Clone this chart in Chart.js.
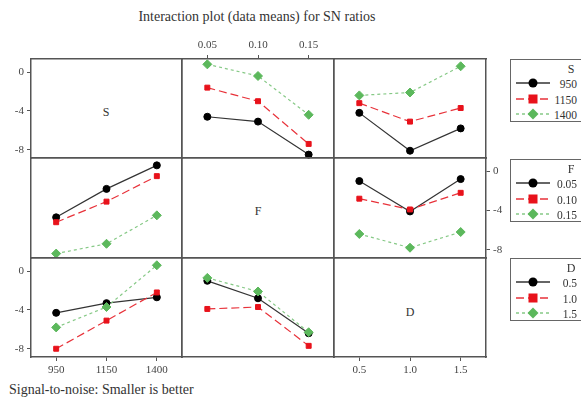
<!DOCTYPE html>
<html>
<head>
<meta charset="utf-8">
<script src="https://cdn.jsdelivr.net/npm/chart.js@4.4.0/dist/chart.umd.min.js"></script>
<style>
  body { margin: 0; background: #fff; }
  #wrap { position: relative; width: 581px; height: 401px; overflow: hidden;
          font-family: "Liberation Serif", "Times New Roman", serif; color: #333; }
  #wrap canvas { position: absolute; }
  .t { position: absolute; white-space: nowrap; transform: translate(-50%, -50%); }
  .lg { position: absolute; left: 510px; width: 120px; height: 63px; border: 1.5px solid #666; background: #fff; box-sizing: border-box; }
  .lg .ttl { position: absolute; left: 60px; top: 9px; transform: translate(-50%, -50%); font-size: 12px; }
  .lg .row { position: absolute; left: 0; height: 12px; width: 120px; }
  .lg svg { position: absolute; left: 3px; top: -1px; }
  .lg .lab { position: absolute; right: 54px; top: -1px; font-size: 11.5px; line-height: 14px; }
</style>
</head>
<body>
<div id="wrap">
  <div class="t" style="left:257px;top:17px;font-size:14px;">Interaction plot (data means) for SN ratios</div>
  <div style="position:absolute;left:9px;top:382px;font-size:14px;white-space:nowrap;">Signal-to-noise: Smaller is better</div>
  <div class="t" style="left:106px;top:112px;font-size:12px;">S</div>
  <div class="t" style="left:258px;top:211px;font-size:12px;">F</div>
  <div class="t" style="left:410px;top:312px;font-size:12px;">D</div>
</div>
<script>
const sLabels = ['950', '1150', '1400'];
const fLabels = ['0.05', '0.10', '0.15'];
const dLabels = ['0.5', '1.0', '1.5'];
const yTicks = [0, -4, -8];
const yMin = -8.85, yMax = 1.35;

// S lines plotted against F (top middle)
const s950ByF  = [-4.6, -5.1, -8.5];
const s1150ByF = [-1.6, -3.0, -7.4];
const s1400ByF = [0.8, -0.4, -4.4];
// S lines plotted against D (top right)
const s950ByD  = [-4.2, -8.1, -5.8];
const s1150ByD = [-3.2, -5.1, -3.7];
const s1400ByD = [-2.4, -2.1, 0.6];
// F lines plotted against S (middle left)
const f005ByS = [-4.7, -1.8, 0.6];
const f010ByS = [-5.2, -3.1, -0.5];
const f015ByS = [-8.4, -7.4, -4.5];
// F lines plotted against D (middle right)
const f005ByD = [-1.0, -4.1, -0.8];
const f010ByD = [-2.8, -3.9, -2.2];
const f015ByD = [-6.4, -7.8, -6.2];
// D lines plotted against S (bottom left)
const d05ByS = [-4.3, -3.3, -2.7];
const d10ByS = [-8.0, -5.1, -2.2];
const d15ByS = [-5.8, -3.7, 0.6];
// D lines plotted against F (bottom middle)
const d05ByF = [-1.0, -2.8, -6.4];
const d10ByF = [-3.9, -3.7, -7.7];
const d15ByF = [-0.7, -2.1, -6.3];

const wrap = document.getElementById('wrap');
const colX = [31, 182, 334, 486];
const rowY = [59, 158, 258, 357];
const M = 30;
const frame = '#555';
const tickFont = { family: '"Liberation Serif", "Times New Roman", serif', size: 11 };

const styles = [
  { point: '#000', line: '#333', dash: [], shape: 'circle', r: 3.5 },
  { point: '#e8121b', line: '#e8323a', dash: [8, 4], shape: 'rect', r: 3.5 },
  { point: '#5cb85c', line: '#86c986', dash: [3, 3], shape: 'rectRot', r: 4.5 }
];

function xAxis(pos, labels, show) {
  return {
    type: 'category', position: pos, labels: labels, offset: true,
    afterFit: s => { s.height = M; },
    grid: { display: true, drawOnChartArea: false, drawTicks: show, tickLength: 4, color: frame, offset: false },
    border: { display: true, color: frame, width: 1.5 },
    ticks: { display: show, color: '#444', font: tickFont, padding: 3, maxRotation: 0, autoSkip: false }
  };
}

function yAxis(pos, show) {
  return {
    type: 'linear', position: pos, min: yMin, max: yMax,
    afterFit: s => { s.width = M; },
    afterBuildTicks: s => { s.ticks = yTicks.map(v => ({ value: v })); },
    grid: { display: true, drawOnChartArea: false, drawTicks: show, tickLength: 4, color: frame },
    border: { display: true, color: frame, width: 1.5 },
    ticks: { display: show, color: '#444', font: tickFont, padding: 3 }
  };
}

function panel(col, row, labels, series, show) {
  const x0 = colX[col], x1 = colX[col + 1], y0 = rowY[row], y1 = rowY[row + 1];
  const w = x1 - x0 + 2 * M, h = y1 - y0 + 2 * M;
  const c = document.createElement('canvas');
  c.width = w; c.height = h;
  c.style.width = w + 'px'; c.style.height = h + 'px';
  c.style.left = (x0 - M) + 'px'; c.style.top = (y0 - M) + 'px';
  wrap.appendChild(c);
  new Chart(c, {
    type: 'line',
    data: {
      labels: labels,
      datasets: series.map((d, i) => ({
        data: d,
        order: 2 - i,
        borderColor: styles[i].line,
        borderWidth: 1.2,
        borderDash: styles[i].dash,
        pointStyle: styles[i].shape,
        pointRadius: styles[i].r,
        pointBackgroundColor: styles[i].point,
        pointBorderColor: styles[i].point,
        pointBorderWidth: 1,
        tension: 0,
        clip: 8
      }))
    },
    options: {
      responsive: false,
      animation: false,
      devicePixelRatio: 1,
      layout: { padding: 0 },
      plugins: { legend: { display: false }, tooltip: { enabled: false } },
      scales: {
        x: xAxis('bottom', labels, !!show.bottom),
        xTop: xAxis('top', labels, !!show.top),
        y: yAxis('left', !!show.left),
        yRight: yAxis('right', !!show.right)
      }
    }
  });
}

panel(0, 0, sLabels, [], { left: true });
panel(1, 0, fLabels, [s950ByF, s1150ByF, s1400ByF], { top: true });
panel(2, 0, dLabels, [s950ByD, s1150ByD, s1400ByD], {});
panel(0, 1, sLabels, [f005ByS, f010ByS, f015ByS], {});
panel(1, 1, fLabels, [], {});
panel(2, 1, dLabels, [f005ByD, f010ByD, f015ByD], { right: true });
panel(0, 2, sLabels, [d05ByS, d10ByS, d15ByS], { left: true, bottom: true });
panel(1, 2, fLabels, [d05ByF, d10ByF, d15ByF], {});
panel(2, 2, dLabels, [], { bottom: true });

// legends
const legends = [
  { top: 59, title: 'S', names: sLabels },
  { top: 159, title: 'F', names: fLabels },
  { top: 258, title: 'D', names: dLabels }
];
function swatch(st) {
  let mark;
  if (st.shape === 'circle') mark = '<circle cx="19" cy="6" r="4.5" fill="' + st.point + '"/>';
  else if (st.shape === 'rect') mark = '<rect x="14.5" y="1.5" width="9" height="9" fill="' + st.point + '"/>';
  else mark = '<polygon points="19,0.5 24.5,6 19,11.5 13.5,6" fill="' + st.point + '"/>';
  return '<svg width="38" height="12"><line x1="2" y1="6" x2="36" y2="6" stroke="' + st.line +
    '" stroke-width="1.3" stroke-dasharray="' + (st.dash.length ? st.dash.join(',') : 'none') + '"/>' + mark + '</svg>';
}
legends.forEach(lg => {
  const box = document.createElement('div');
  box.className = 'lg';
  box.style.top = lg.top + 'px';
  let html = '<div class="ttl">' + lg.title + '</div>';
  lg.names.forEach((n, i) => {
    html += '<div class="row" style="top:' + (18 + i * 15.5) + 'px">' + swatch(styles[i]) +
      '<span class="lab">' + n + '</span></div>';
  });
  box.innerHTML = html;
  wrap.appendChild(box);
});
</script>
</body>
</html>
